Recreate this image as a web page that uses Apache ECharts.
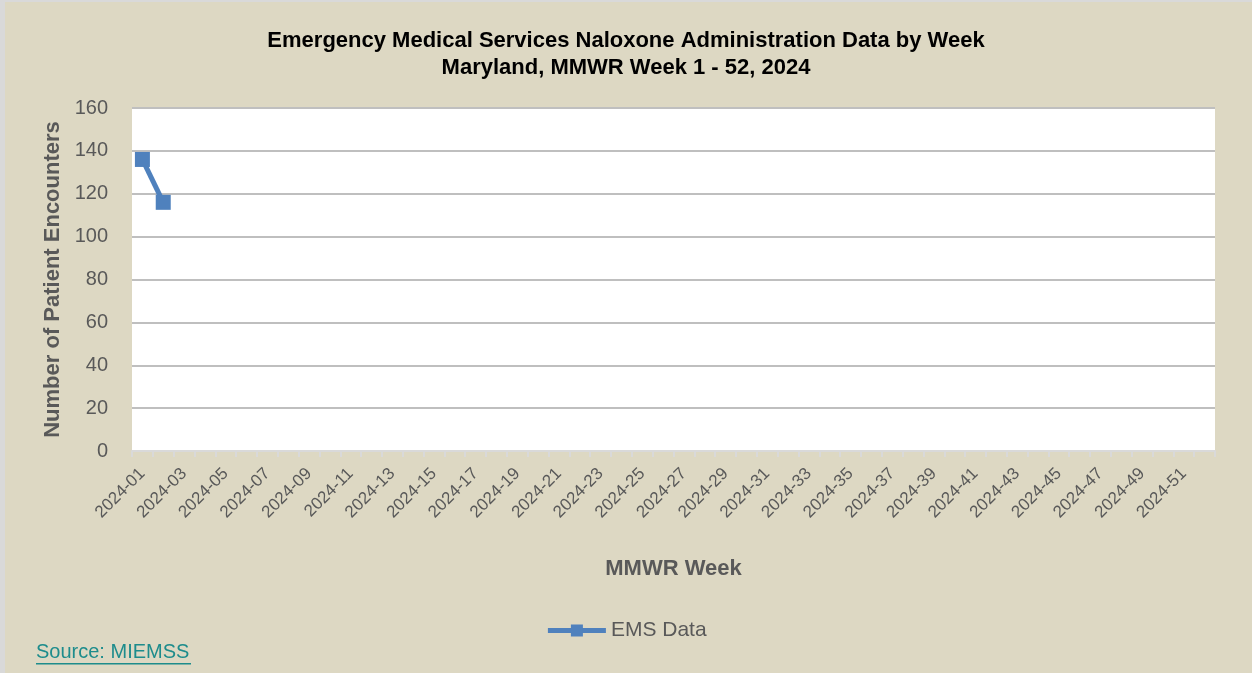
<!DOCTYPE html>
<html><head><meta charset="utf-8">
<script src="https://cdn.jsdelivr.net/npm/echarts@6/dist/echarts.min.js"></script>
<style>
html,body{margin:0;padding:0;background:#D9D9D9;width:1252px;height:673px;overflow:hidden}
#wrap{position:absolute;left:5px;top:2px;width:1247px;height:671px;background:#DDD8C3}
#c{position:absolute;left:-5px;top:-2px;width:1252px;height:673px}
</style></head><body>
<div id="wrap"><div id="c"></div></div>
<script>
var weeks = [];
for (var i = 1; i <= 52; i++) weeks.push('2024-' + (i < 10 ? '0' + i : '' + i));
var emsValues = [136, 116];
var yTicks = [0, 20, 40, 60, 80, 100, 120, 140, 160];

var seriesData = weeks.map(function (w, i) { return i < emsValues.length ? emsValues[i] : null; });

var chart = echarts.init(document.getElementById('c'));
var font = 'Liberation Sans';
chart.setOption({
  backgroundColor: 'transparent',
  animation: false,
  title: {
    text: 'Emergency Medical Services Naloxone Administration Data by Week\nMaryland, MMWR Week 1 - 52, 2024',
    left: 'center', top: 22,
    textStyle: { fontFamily: font, fontSize: 22, fontWeight: 'bold', color: '#000', lineHeight: 27 }
  },
  grid: { left: 132, right: 37, top: 108, bottom: 222, show: true, backgroundColor: '#fff', borderWidth: 0 },
  legend: {
    bottom: 27, left: 'center',
    itemWidth: 58, itemHeight: 15, itemGap: 4,
    lineStyle: { width: 5 },
    textStyle: { fontFamily: font, fontSize: 21, color: '#595959' },
    data: ['EMS Data']
  },
  xAxis: {
    type: 'category', data: weeks, boundaryGap: true,
    name: 'MMWR Week', nameLocation: 'middle', nameGap: 107,
    nameTextStyle: { fontFamily: font, fontSize: 22, fontWeight: 'bold', color: '#595959' },
    axisLine: { lineStyle: { color: '#D9D9D9', width: 2 } },
    axisTick: { show: true, alignWithLabel: false, interval: 0, length: 6, lineStyle: { color: '#D9D9D9', width: 2 } },
    axisLabel: { interval: 1, rotate: 45, fontFamily: font, fontSize: 17, color: '#595959', margin: 20 }
  },
  yAxis: {
    type: 'value', min: 0, max: 160, interval: 20,
    name: 'Number of Patient Encounters', nameLocation: 'middle', nameGap: 66,
    nameTextStyle: { fontFamily: font, fontSize: 22, fontWeight: 'bold', color: '#595959' },
    axisLine: { show: false }, axisTick: { show: false },
    axisLabel: { fontFamily: font, fontSize: 20, color: '#595959', margin: 24,
      formatter: function (v) { return yTicks.indexOf(v) >= 0 ? String(v) : ''; } },
    splitLine: { lineStyle: { color: '#BFBFBF', width: 2 } }
  },
  series: [{
    name: 'EMS Data', type: 'line', data: seriesData, connectNulls: false,
    symbol: 'rect', symbolSize: 15, showSymbol: true, showAllSymbol: true,
    lineStyle: { color: '#4F81BD', width: 5 },
    itemStyle: { color: '#4F81BD' }
  }],
  graphic: [
    { type: 'text', left: 36, top: 642, style: { text: 'Source: MIEMSS', fontFamily: font, fontSize: 20, fill: '#1D8C8C' } },
    { type: 'rect', left: 36, top: 663, shape: { width: 155, height: 1.5 }, style: { fill: '#1D8C8C' } }
  ]
});
</script>
</body></html>
